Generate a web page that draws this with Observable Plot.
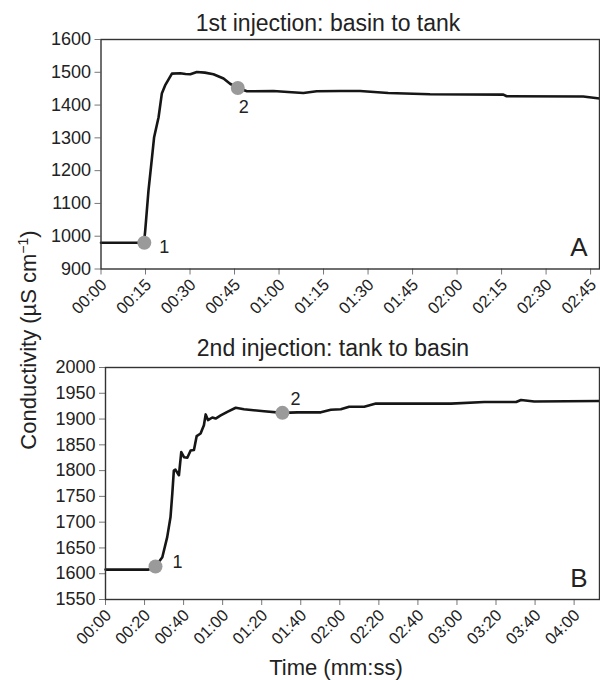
<!DOCTYPE html>
<html>
<head>
<meta charset="utf-8">
<script src="https://cdn.jsdelivr.net/npm/d3@7"></script>
<script src="https://cdn.jsdelivr.net/npm/@observablehq/plot@0.6"></script>
<style>
  html, body { margin: 0; padding: 0; background: #fff; }
  #wrap { position: relative; width: 600px; height: 680px; font-family: "Liberation Sans", Arial, sans-serif; }
  #wrap > * { position: absolute; left: 0; }
</style>
</head>
<body>
<div id="wrap"></div>
<script>
// ---- Data ----
// Panel A: 1st injection, basin to tank (time in seconds, conductivity µS/cm)
const timeA = [0, 14.5, 14.9, 16.0, 17.2, 17.9, 19.4, 20.5, 21.6, 23.9, 26.7, 28.5, 30.1, 32.3, 35, 37.9, 41.3, 43.5, 46.1, 49.2, 58.1, 63, 68.2, 72.7, 80.6, 87.3, 96.8, 110.9, 135.6, 136.7, 162.5, 168];
const condA = [980, 980, 1017, 1139, 1241, 1302, 1363, 1435, 1460, 1496, 1497, 1495, 1494, 1501, 1499, 1494, 1481, 1465, 1452, 1442, 1443, 1440, 1437, 1442, 1443, 1443, 1437, 1433, 1432, 1427, 1426, 1420];
const markTimeA = [14.6, 46.1];
const markCondA = [980, 1452];
const markLabelA = ["1", "2"];

// Panel B: 2nd injection, tank to basin
const timeB = [0, 22, 25.6, 29.1, 31.6, 33.3, 34.2, 35.0, 35.8, 37.6, 38.8, 40.2, 41.9, 43.6, 45.3, 46.7, 48.7, 50.4, 51.3, 52.5, 54.7, 56.4, 59.0, 62.4, 66.7, 70.9, 81.2, 90.6, 98.3, 110.3, 115.4, 120.5, 124.8, 132.5, 138.5, 176.9, 194, 210.3, 212.8, 219.6, 253];
const condB = [1608, 1608, 1614, 1632, 1671, 1710, 1755, 1800, 1802, 1791, 1836, 1826, 1825, 1839, 1840, 1867, 1872, 1888, 1909, 1898, 1903, 1901, 1907, 1914, 1922, 1919, 1915, 1912, 1913, 1913, 1918, 1919, 1924, 1924, 1930, 1930, 1933, 1933, 1937, 1934, 1935];
const markTimeB = [25.6, 90.6];
const markCondB = [1614, 1912];
const markLabelB = ["1", "2"];

// Tick labels
const xTicksA = [0, 15, 30, 45, 60, 75, 90, 105, 120, 135, 150, 165];
const yTicksA = [900, 1000, 1100, 1200, 1300, 1400, 1500, 1600];
const xTicksB = [0, 20, 40, 60, 80, 100, 120, 140, 160, 180, 200, 220, 240];
const yTicksB = [1550, 1600, 1650, 1700, 1750, 1800, 1850, 1900, 1950, 2000];

const titleA = "1st injection: basin to tank";
const titleB = "2nd injection: tank to basin";
const xLabel = "Time (mm:ss)";

const fmt = s => {
  const m = Math.floor(s / 60), ss = Math.round(s % 60);
  return String(m).padStart(2, "0") + ":" + String(ss).padStart(2, "0");
};

const FONT = "'Liberation Sans', Arial, sans-serif";
const XTICKFONT = 16.5;
const YTICKFONT = 18;

function panel({time, cond, mt, mc, ml, xDomain, yDomain, xTicks, yTicks, letter, labelDx, labelDy, marginLeft, marginTop, marginBottom, height}) {
  const series = time.map((t, i) => ({t, c: cond[i]}));
  const marks = mt.map((t, i) => ({t, c: mc[i], label: ml[i], dx: labelDx[i], dy: labelDy[i]}));
  return Plot.plot({
    width: 600,
    height,
    marginLeft,
    marginRight: 1,
    marginTop,
    marginBottom,
    style: {fontFamily: FONT, fontSize: XTICKFONT + "px", color: "#222", background: "transparent", overflow: "visible"},
    x: {domain: xDomain},
    y: {domain: yDomain},
    marks: [
      Plot.axisY({ticks: yTicks, tickFormat: d => String(d), tickSize: 6, tickPadding: 4, fontSize: YTICKFONT, label: null, stroke: "#777", fill: "#222"}),
      // x tick marks
      Plot.axisX({ticks: xTicks, tickFormat: () => "", tickSize: 6, label: null, stroke: "#777"}),
      // rotated x tick labels
      Plot.axisX({ticks: xTicks, tickFormat: fmt, tickSize: 0, tickPadding: 10, tickRotate: -45, fontSize: XTICKFONT, label: null, fill: "#222", dx: 3, dy: 3}),
      Plot.line(series, {x: "t", y: "c", stroke: "#161616", strokeWidth: 2.6, strokeLinejoin: "round", strokeLinecap: "round"}),
      Plot.dot(marks, {x: "t", y: "c", r: 7, fill: "#9a9a9a", stroke: "none"}),
      ...marks.map(m => Plot.text([m], {x: "t", y: "c", text: "label", dx: m.dx, dy: m.dy, fontSize: 18, fill: "#222", textAnchor: "start"})),
      Plot.text([letter], {text: d => d, frameAnchor: "bottom-right", dx: -12, dy: -13, fontSize: 26, fill: "#222", lineAnchor: "bottom", textAnchor: "end"}),
      Plot.frame({stroke: "#333", strokeWidth: 1.4})
    ]
  });
}

const wrap = document.getElementById("wrap");

const plotA = panel({
  time: timeA, cond: condA, mt: markTimeA, mc: markCondA, ml: markLabelA,
  xDomain: [0, 168], yDomain: [900, 1600], xTicks: xTicksA, yTicks: yTicksA, letter: "A",
  labelDx: [15, 1], labelDy: [4, 19],
  marginLeft: 100.5, marginTop: 9, marginBottom: 61.5, height: 300
});
plotA.style.top = "30px";
wrap.appendChild(plotA);

const plotB = panel({
  time: timeB, cond: condB, mt: markTimeB, mc: markCondB, ml: markLabelB,
  xDomain: [0, 253], yDomain: [1550, 2000], xTicks: xTicksB, yTicks: yTicksB, letter: "B",
  labelDx: [17, 8], labelDy: [-4, -14],
  marginLeft: 105, marginTop: 7, marginBottom: 51, height: 290
});
plotB.style.top = "360px";
wrap.appendChild(plotB);

// Overlay for titles and shared axis labels
const svg = d3.create("svg").attr("width", 600).attr("height", 680)
  .style("top", "0px").style("pointer-events", "none")
  .attr("font-family", FONT).attr("fill", "#222");
svg.append("text").attr("x", 328).attr("y", 31).attr("text-anchor", "middle").attr("font-size", 23).text(titleA);
svg.append("text").attr("x", 333).attr("y", 356).attr("text-anchor", "middle").attr("font-size", 23).text(titleB);
svg.append("text").attr("x", 336).attr("y", 675).attr("text-anchor", "middle").attr("font-size", 22).text(xLabel);
const yl = svg.append("text").attr("transform", "translate(36,340) rotate(-90)").attr("text-anchor", "middle").attr("font-size", 22);
yl.append("tspan").text("Conductivity (µS cm");
yl.append("tspan").attr("dy", -8).attr("font-size", 14).text("−1");
yl.append("tspan").attr("dy", 8).text(")");
wrap.appendChild(svg.node());
</script>
</body>
</html>
